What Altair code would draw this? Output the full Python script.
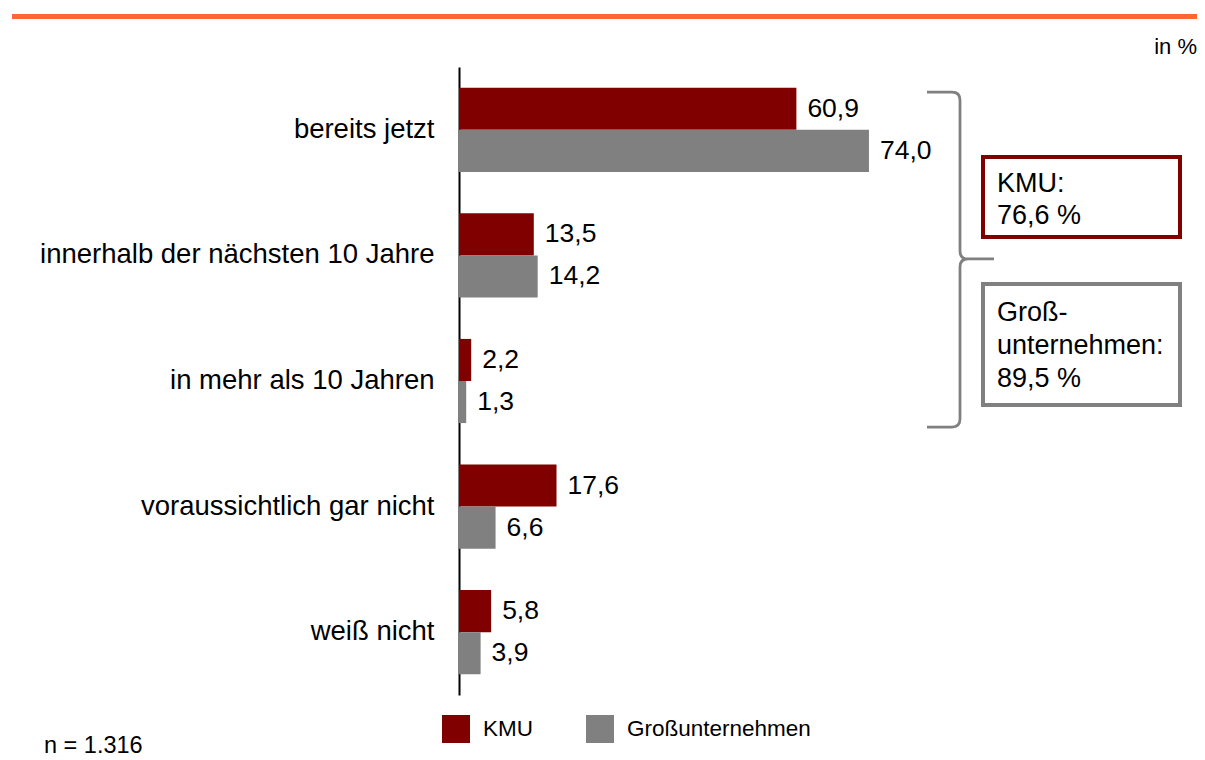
import altair as alt
import pandas as pd

# ---- data ----
categories = [
    "bereits jetzt",
    "innerhalb der nächsten 10 Jahre",
    "in mehr als 10 Jahren",
    "voraussichtlich gar nicht",
    "weiß nicht",
]
series = ["KMU", "Großunternehmen"]
kmu = [60.9, 13.5, 2.2, 17.6, 5.8]
gross = [74.0, 14.2, 1.3, 6.6, 3.9]
colors = ["#800000", "#808080"]
sample_note = "n = 1.316"
unit_note = "in %"

FONT = "Liberation Sans"


def de(v):
    return f"{v:.1f}".replace(".", ",")


rows = []
for c, a, b in zip(categories, kmu, gross):
    rows.append({"cat": c, "series": series[0], "value": a, "label": de(a)})
    rows.append({"cat": c, "series": series[1], "value": b, "label": de(b)})
df = pd.DataFrame(rows)

tot_kmu = round(sum(kmu[:3]), 1)
tot_gross = round(sum(gross[:3]), 1)

W, H = 738, 628

y_enc = alt.Y(
    "cat:N",
    sort=categories,
    scale=alt.Scale(paddingInner=0.33, paddingOuter=0.165),
    axis=alt.Axis(
        title=None,
        ticks=False,
        domain=True,
        domainColor="black",
        domainWidth=2,
        labelFontSize=27.5,
        labelColor="black",
        labelPadding=25,
        labelLimit=600,
        labelFont=FONT,
        grid=False,
    ),
)
yoff = alt.YOffset("series:N", sort=series)
x_enc = alt.X("value:Q", scale=alt.Scale(domain=[0, W / 5.54], nice=False), axis=None)

bars = alt.Chart(df).mark_bar().encode(
    y=y_enc,
    yOffset=yoff,
    x=x_enc,
    color=alt.Color(
        "series:N",
        sort=series,
        scale=alt.Scale(domain=series, range=colors),
        legend=alt.Legend(
            title=None,
            orient="none",
            legendX=-17,
            legendY=648,
            direction="horizontal",
            symbolType="square",
            symbolSize=784,
            symbolStrokeWidth=0,
            labelFontSize=22.5,
            labelFont=FONT,
            labelColor="black",
            labelOffset=13,
            labelLimit=400,
            columnPadding=53,
            padding=0,
        ),
    ),
)

labels = alt.Chart(df).mark_text(
    align="left", baseline="middle", dx=11, fontSize=26.5, font=FONT, color="black"
).encode(y=y_enc, yOffset=yoff, x=x_enc, text="label:N")

# ---- decorations (pixel positions in plot area) ----
one = pd.DataFrame({"k": [0]})

top_line = alt.Chart(one).mark_rule(color="#FF6633", strokeWidth=5).encode(
    x=alt.value(-447), x2=alt.value(W), y=alt.value(-50.5)
)

unit_txt = alt.Chart(pd.DataFrame({"t": [unit_note]})).mark_text(
    align="right", baseline="alphabetic", fontSize=22, font=FONT, color="black"
).encode(x=alt.value(W), y=alt.value(-13), text="t:N")

n_txt = alt.Chart(pd.DataFrame({"t": [sample_note]})).mark_text(
    align="left", baseline="alphabetic", fontSize=23.5, font=FONT, color="black"
).encode(x=alt.value(-415), y=alt.value(686), text="t:N")

# brace as a custom symbol path (normalised to the symbol box)
cx, cy, rr = 501.0, 192.5, 167.5


def P(x, y):
    return f"{(x - cx) / rr:.4f},{(y - cy) / rr:.4f}"


brace_path = (
    f"M{P(468, 25)}L{P(493, 25)}Q{P(501, 25)} {P(501, 33)}L{P(501, 184)}"
    f"Q{P(501, 192)} {P(509, 192)}L{P(535, 192)}"
    f"M{P(509, 192)}Q{P(501, 192)} {P(501, 200)}L{P(501, 352)}"
    f"Q{P(501, 360)} {P(493, 360)}L{P(468, 360)}"
)

brace = alt.Chart(one).mark_point(
    shape=brace_path, size=(2 * rr) ** 2, filled=False, stroke="#808080",
    strokeWidth=2.75, opacity=1, strokeJoin="round",
).encode(x=alt.value(cx), y=alt.value(cy))

box1 = alt.Chart(one).mark_rect(fillOpacity=0, stroke=colors[0], strokeWidth=4).encode(
    x=alt.value(524), x2=alt.value(721), y=alt.value(90), y2=alt.value(170)
)
box2 = alt.Chart(one).mark_rect(fillOpacity=0, stroke=colors[1], strokeWidth=4).encode(
    x=alt.value(524), x2=alt.value(721), y=alt.value(217), y2=alt.value(338)
)
box1_txt = alt.Chart(pd.DataFrame({"t": [f"{series[0]}:\n{de(tot_kmu)} %"]})).mark_text(
    align="left", baseline="alphabetic", fontSize=27, font=FONT, color="black",
    lineBreak="\n", lineHeight=32,
).encode(x=alt.value(538), y=alt.value(125), text="t:N")
box2_txt = alt.Chart(pd.DataFrame({"t": [f"Groß-\nunternehmen:\n{de(tot_gross)} %"]})).mark_text(
    align="left", baseline="alphabetic", fontSize=27, font=FONT, color="black",
    lineBreak="\n", lineHeight=33,
).encode(x=alt.value(538), y=alt.value(254), text="t:N")

chart = (
    alt.layer(bars, labels, top_line, unit_txt, n_txt, brace, box1, box2, box1_txt, box2_txt)
    .properties(
        width=W,
        height=H,
        padding={"left": 451, "top": 59, "right": 0, "bottom": 73},
        autosize=alt.AutoSizeParams(type="none"),
        view=alt.ViewBackground(stroke="transparent", strokeWidth=0),
    )
    .configure_view(stroke="transparent", strokeWidth=0)
    .configure_axis(grid=False, domain=False, ticks=False)
    .configure(font=FONT)
)

chart.save("out.html", embed_options={"renderer": "svg", "actions": False})
